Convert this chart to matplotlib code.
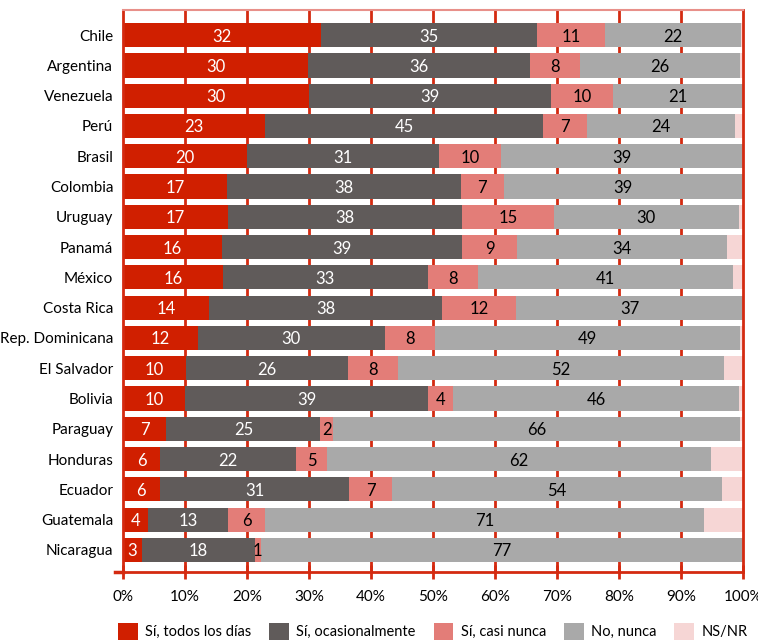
import matplotlib
matplotlib.use('Agg')
import matplotlib.pyplot as plt
import numpy as np

plt.rcParams['font.family'] = ['Lato', 'DejaVu Sans']

paises = ['Chile', 'Argentina', 'Venezuela', 'Perú', 'Brasil', 'Colombia', 'Uruguay',
          'Panamá', 'México', 'Costa Rica', 'Rep. Dominicana', 'El Salvador', 'Bolivia',
          'Paraguay', 'Honduras', 'Ecuador', 'Guatemala', 'Nicaragua']
todos_dias = [32, 30, 30, 23, 20, 17, 17, 16, 16, 14, 12, 10, 10, 7, 6, 6, 4, 3]
ocasional = [35, 36, 39, 45, 31, 38, 38, 39, 33, 38, 30, 26, 39, 25, 22, 31, 13, 18]
casi_nunca = [11, 8, 10, 7, 10, 7, 15, 9, 8, 12, 8, 8, 4, 2, 5, 7, 6, 1]
nunca = [22, 26, 21, 24, 39, 39, 30, 34, 41, 37, 49, 52, 46, 66, 62, 54, 71, 77]
ns_nr = [0.3, 0.5, 0, 1.3, 0, 0, 0.7, 2.6, 1.6, 0, 0.5, 3.1, 0.6, 0.5, 5.2, 3.4, 6.4, 0]

series = ['Sí, todos los días', 'Sí, ocasionalmente', 'Sí, casi nunca', 'No, nunca', 'NS/NR']
colores = ['#d01f00', '#605b5a', '#e37d78', '#a9a9a9', '#f6d6d5']
txt_col = ['white', 'white', 'black', 'black', None]
frame = '#d42a10'

data = np.array([todos_dias, ocasional, casi_nunca, nunca, ns_nr], dtype=float)
# rows scaled to 100 (printed values are rounded)
data = data / data.sum(axis=0) * 100

fig = plt.figure(figsize=(7.58, 6.41), dpi=100)
ax = fig.add_axes([0.1623, 0.1076, 0.818, 0.8768])

y = np.arange(len(paises))
left = np.zeros(len(paises))
for k in range(5):
    ax.barh(y, data[k], left=left, height=0.8, color=colores[k], label=series[k], zorder=2)
    if txt_col[k]:
        raw = [todos_dias, ocasional, casi_nunca, nunca][k]
        for i in range(len(paises)):
            ax.text(left[i] + data[k][i] / 2, y[i] + 0.05, str(raw[i]), ha='center', va='center',
                    color=txt_col[k], fontsize=12, zorder=3)
    left += data[k]

ax.set_xlim(0, 100)
ax.set_ylim(len(paises) - 0.27, -0.83)
ax.set_yticks(y)
ax.set_yticklabels(paises, fontsize=11)
ax.tick_params(axis='y', length=0, pad=7)
ax.set_xticks(np.arange(0, 101, 10))
ax.set_xticklabels([f'{v}%' for v in range(0, 101, 10)], fontsize=11)
ax.tick_params(axis='x', direction='inout', length=10, width=2, color=frame, pad=8)

for v in range(10, 100, 10):
    ax.axvline(v, color=frame, lw=2, zorder=1)

for s in ['left', 'right', 'top', 'bottom']:
    ax.spines[s].set_color(frame)
    ax.spines[s].set_linewidth(2)
ax.spines['top'].set_color('#e8908a')
ax.spines['top'].set_linewidth(1.5)
ax.plot([-1.3, 0], [0, 0], transform=ax.get_xaxis_transform(), color=frame, lw=2.5, clip_on=False)

fig.legend(loc='center left', bbox_to_anchor=(0.152, 0.0, 0.838, 0.03), mode='expand', ncol=5,
           frameon=False, fontsize=10.5, borderaxespad=0, borderpad=0.2,
           handlelength=1.35, handleheight=1.35, handletextpad=0.5, columnspacing=0.8)

fig.savefig('out.png', dpi=100)
